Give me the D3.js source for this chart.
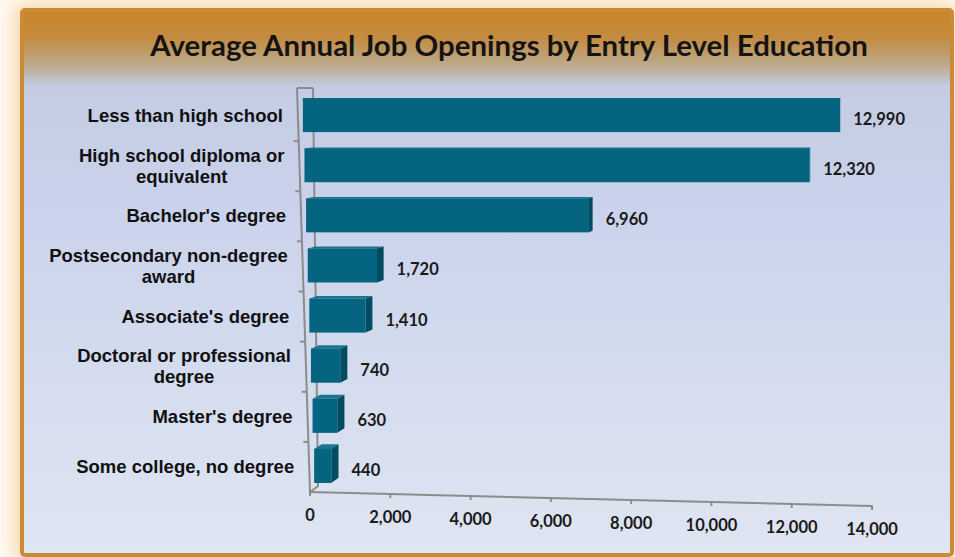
<!DOCTYPE html>
<html>
<head>
<meta charset="utf-8">
<script src="https://cdn.jsdelivr.net/npm/d3@7"></script>
<style>
  html, body { margin: 0; padding: 0; background: #fff; }
  svg { display: block; }
</style>
</head>
<body>
<div id="chart"></div>
<script>
// Data
const categories = [
    "Less than high school",
    "High school diploma or\nequivalent",
    "Bachelor's degree",
    "Postsecondary non-degree\naward",
    "Associate's degree",
    "Doctoral or professional\ndegree",
    "Master's degree",
    "Some college, no degree"
];
const openings = [12990, 12320, 6960, 1720, 1410, 740, 630, 440];
const xTicks = [0, 2000, 4000, 6000, 8000, 10000, 12000, 14000];
const title = "Average Annual Job Openings by Entry Level Education";

const width = 955, height = 557;
const svg = d3.select("#chart")
    .append("svg")
    .attr("width", width)
    .attr("height", height);

const defs = svg.append("defs");

// background glow + panel gradients
const glow = defs.append("filter").attr("id", "glow")
    .attr("x", "-10%").attr("y", "-10%").attr("width", "120%").attr("height", "120%");
glow.append("feGaussianBlur").attr("stdDeviation", 9);

const panelGrad = defs.append("linearGradient").attr("id", "panelGrad")
    .attr("x1", 0).attr("y1", 0).attr("x2", 0).attr("y2", 1);
panelGrad.append("stop").attr("offset", "0%").attr("stop-color", "#c98528");
panelGrad.append("stop").attr("offset", "5%").attr("stop-color", "#c48b40");
panelGrad.append("stop").attr("offset", "10%").attr("stop-color", "#bca98a");
panelGrad.append("stop").attr("offset", "14%").attr("stop-color", "#c3cce3");
panelGrad.append("stop").attr("offset", "40%").attr("stop-color", "#cbd4ec");
panelGrad.append("stop").attr("offset", "100%").attr("stop-color", "#dfe5f1");

svg.append("rect").attr("width", width).attr("height", height).attr("fill", "#fffaf2");
svg.append("rect")
    .attr("x", 14).attr("y", 4).attr("width", 942).attr("height", 556)
    .attr("fill", "#f2cf98").attr("opacity", 0.8)
    .attr("filter", "url(#glow)");

svg.append("rect")
    .attr("x", 22).attr("y", 10).attr("width", 930).attr("height", 545)
    .attr("rx", 3)
    .attr("fill", "url(#panelGrad)")
    .attr("stroke", "#cc8a36")
    .attr("stroke-width", 4);

// title
const titleText = svg.append("text")
    .attr("x", 509).attr("y", 56)
    .attr("text-anchor", "middle")
    .attr("font-family", "Lato, 'Open Sans', sans-serif")
    .attr("font-weight", "bold")
    .attr("font-size", 26)
    .attr("fill", "#141414")
    .text(title);
{
    const w = titleText.node().getComputedTextLength();
    titleText.attr("font-size", 26 * 718 / w);
}

// geometry of the skewed 3D plot
const y = d3.scaleBand()
    .domain(d3.range(categories.length))
    .range([91, 492]);

// front edge of the wall drifts right going down
const wallX = d3.scaleLinear().domain([88, 492]).range([297, 310]);
// bar lengths shrink a little toward the bottom (perspective)
const rowSpan = d3.scaleLinear().domain([0, categories.length - 1]).range([579, 544]);

// floor axis
const xAxis = d3.scaleLinear().domain([0, 14000]).range([310, 872]);
const yAxis = d3.scaleLinear().domain([0, 14000]).range([492, 506]);

// depth towards the vanishing point
const vp = [850, 110], depthK = 0.014;
const depth = (px, py) => [(vp[0] - px) * depthK, (vp[1] - py) * depthK];

const axisColor = "#8c8c8c";
const wall = svg.append("g").attr("stroke", axisColor).attr("stroke-width", 2).attr("fill", "none");
const wallBack = [313, 318];
wall.append("path").attr("d", `M${wallX(88)},88 L${wallBack[0]},88`);
wall.append("path").attr("d", `M${wallX(88)},88 L${wallX(492)},492`);
wall.append("path").attr("d", `M${wallBack[0]},88 L${wallBack[1]},486 L${wallX(492)},492`);
wall.selectAll("line.tick")
    .data(d3.range(1, categories.length))
    .enter()
    .append("line")
    .attr("class", "tick")
    .attr("x1", i => wallX(y(i)) - 5)
    .attr("x2", i => wallX(y(i)))
    .attr("y1", i => y(i))
    .attr("y2", i => y(i));

// floor line and ticks
const floor = svg.append("g").attr("stroke", axisColor).attr("stroke-width", 2);
floor.append("line")
    .attr("x1", xAxis(0)).attr("y1", yAxis(0))
    .attr("x2", xAxis(14000)).attr("y2", yAxis(14000));
floor.selectAll("line.tick")
    .data(xTicks)
    .enter()
    .append("line")
    .attr("class", "tick")
    .attr("x1", d => xAxis(d)).attr("x2", d => xAxis(d))
    .attr("y1", d => yAxis(d) - 1).attr("y2", d => yAxis(d) + 4);

svg.append("g")
    .selectAll("text")
    .data(xTicks)
    .enter()
    .append("text")
    .attr("x", d => xAxis(d))
    .attr("y", d => yAxis(d) + 29)
    .attr("text-anchor", "middle")
    .attr("font-family", "Lato, sans-serif")
    .attr("font-weight", "bold")
    .attr("font-size", 16.5)
    .attr("fill", "#1a1a1a")
    .text(d3.format(","));

// bars
const rows = openings.map((v, i) => {
    const top = y(i) + y.bandwidth() * 0.14;
    const bottom = top + y.bandwidth() * 0.68;
    const left = wallX((top + bottom) / 2) + 5;
    const x = d3.scaleLinear().domain([0, 14000]).range([left, left + rowSpan(i)]);
    return { i, v, top, bottom, left, right: x(v) };
});

const bars = svg.append("g");
rows.forEach(r => {
    const dTL = depth(r.left, r.top), dTR = depth(r.right, r.top), dBR = depth(r.right, r.bottom);
    if (dTR[1] < 0) {
        bars.append("path")
            .attr("fill", "#1a7590")
            .attr("d", `M${r.left},${r.top} L${r.right},${r.top} L${r.right + dTR[0]},${r.top + dTR[1]} L${r.left + dTL[0]},${r.top + dTL[1]} Z`);
    }
    bars.append("path")
        .attr("fill", "#024c61")
        .attr("d", `M${r.right},${r.top} L${r.right},${r.bottom} L${r.right + dBR[0]},${r.bottom + dBR[1]} L${r.right + dTR[0]},${r.top + dTR[1]} Z`);
    bars.append("rect")
        .attr("x", r.left).attr("y", r.top)
        .attr("width", r.right - r.left).attr("height", r.bottom - r.top)
        .attr("fill", "#05647f");
});

// value labels
svg.append("g")
    .selectAll("text")
    .data(rows)
    .enter()
    .append("text")
    .attr("x", r => r.right + Math.max(depth(r.right, r.top)[0], 0) + 13)
    .attr("y", r => (r.top + r.bottom) / 2 + 10)
    .attr("font-family", "Lato, sans-serif")
    .attr("font-weight", "bold")
    .attr("font-size", 16.5)
    .attr("fill", "#1a1a1a")
    .text(r => d3.format(",")(r.v));

// category labels: block right-aligned, lines centred
const catG = svg.append("g")
    .attr("font-family", "'Liberation Sans', Arial, sans-serif")
    .attr("font-weight", "bold")
    .attr("font-size", 18.5)
    .attr("fill", "#111");
categories.forEach((c, i) => {
    const lines = c.split("\n");
    const cy = y(i) + y.bandwidth() / 2;
    const right = wallX(cy) - 15;
    const t = catG.append("text").attr("text-anchor", "middle");
    lines.forEach((ln, k) => {
        t.append("tspan")
            .attr("y", cy + 6 + (k - (lines.length - 1) / 2) * 21)
            .text(ln);
    });
    // widest line decides where the centred block sits
    const spans = t.selectAll("tspan").nodes();
    const w = d3.max(spans, s => s.getComputedTextLength());
    t.selectAll("tspan").attr("x", right - w / 2);
});
</script>
</body>
</html>
